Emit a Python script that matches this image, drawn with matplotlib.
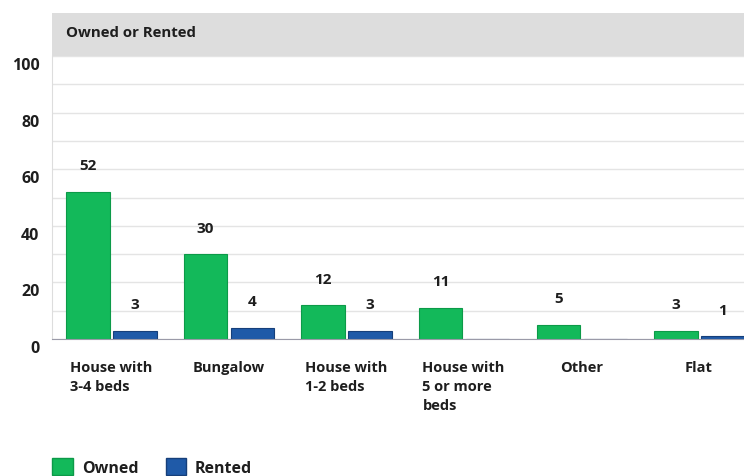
import numpy as np
import matplotlib.pyplot as plt
from matplotlib.patches import Rectangle, Patch
from matplotlib.transforms import ScaledTranslation

categories = ['House with\n3-4 beds', 'Bungalow', 'House with\n1-2 beds',
              'House with\n5 or more\nbeds', 'Other', 'Flat']
owned = [52, 30, 12, 11, 5, 3]
rented = [3, 4, 3, 0, 0, 1]
yticks = [0, 20, 40, 60, 80, 100]

plt.rcParams['font.family'] = ['Open Sans', 'DejaVu Sans']
green = '#13b95a'
blue = '#1f5aa8'
ink = '#1e1e1e'

fig = plt.figure(figsize=(7.44, 4.77), dpi=100)
ax = fig.add_axes([52/744, 1-340/477, 1-52/744, (340-57)/477])

x = np.arange(len(categories))
w = 0.37
ax.bar(x - 0.195, owned, w, color=green, edgecolor='#0c9a48', linewidth=0.8, zorder=3)
ax.bar(x + 0.205, rented, w, color=blue, edgecolor='#163f7a', linewidth=0.8, zorder=3)

for i in range(len(categories)):
    ax.annotate(str(owned[i]), (x[i] - 0.195, owned[i]), xytext=(0, 14),
                textcoords='offset points', ha='center', va='bottom',
                fontsize=11, fontweight='bold', color=ink)
    if rented[i] > 0:
        ax.annotate(str(rented[i]), (x[i] + 0.205, rented[i]), xytext=(0, 14),
                    textcoords='offset points', ha='center', va='bottom',
                    fontsize=11, fontweight='bold', color=ink)

ax.set_xlim(-0.5, -0.5 + 692/117.6)
ax.set_ylim(0, 100)
ax.set_yticks(yticks)
ax.set_yticks(np.arange(0, 101, 10), minor=True)
ax.grid(axis='y', which='both', color='#e4e4e4', linewidth=1, zorder=0)
ax.tick_params(axis='y', which='both', length=0, labelsize=11.5, pad=9)
for lab in ax.get_yticklabels():
    lab.set_fontweight('bold')
    lab.set_color(ink)
    lab.set_transform(lab.get_transform() + ScaledTranslation(0, -5/72, fig.dpi_scale_trans))

ax.set_xticks(x)
ax.set_xticklabels(categories, fontsize=10.5, fontweight='bold', color=ink,
                   multialignment='left', va='top', linespacing=1.45)
ax.tick_params(axis='x', length=0, pad=15)

for s in ['top', 'right']:
    ax.spines[s].set_visible(False)
ax.spines['left'].set_color('#dddddd')
ax.spines['bottom'].set_color('#9a9aa8')
ax.spines['bottom'].set_zorder(4)

fig.patches.append(Rectangle((52/744, 1-57/477), 1-52/744, 43/477,
                             transform=fig.transFigure, facecolor='#dddddd',
                             edgecolor='none'))
fig.text(66/744, 1-33/477, 'Owned or Rented', fontsize=10.8, fontweight='bold',
         color=ink, va='center')

handles = [Patch(facecolor=green, edgecolor='#0c9a48'),
           Patch(facecolor=blue, edgecolor='#163f7a')]
leg = fig.legend(handles, ['Owned', 'Rented'], loc='center left',
                 bbox_to_anchor=(38/744, 1-468/477), ncol=2, frameon=False,
                 handlelength=1.3, handleheight=1.3, columnspacing=1.7,
                 handletextpad=0.55, prop={'size': 11.5, 'weight': 'bold'})
for t in leg.get_texts():
    t.set_color(ink)

fig.savefig('out.png', dpi=100)
